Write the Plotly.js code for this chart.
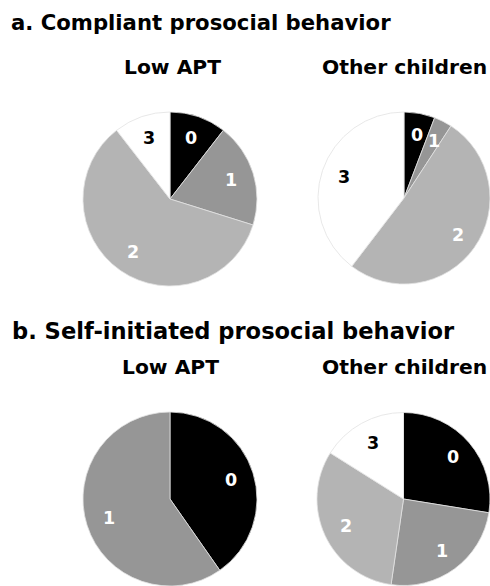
<!DOCTYPE html>
<html>
<head>
<meta charset="utf-8">
<script src="https://cdn.plot.ly/plotly-3.0.1.min.js"></script>
<style>
  html, body { margin: 0; padding: 0; background: #ffffff; overflow: hidden; }
  #chart { width: 490px; height: 586px; }
</style>
</head>
<body>
<div id="chart"></div>
<script>
// ---- data (percent of children in each score category) ----
const categories = ['0', '1', '2', '3'];
const compliantLowAPT = [10.5, 19.3, 59.6, 10.5];
const compliantOther = [5.8, 3.4, 51.2, 39.6];
const selfCategories = ['0', '1'];
const selfLowAPT = [40.3, 59.7];
const selfOther = [27.6, 24.8, 31.7, 16.1];

const panelTitles = ['a. Compliant prosocial behavior', 'b. Self-initiated prosocial behavior'];
const groupTitles = ['Low APT', 'Other children'];

// ---- style ----
const sliceColors = ['#000000', '#969696', '#b4b4b4', '#ffffff'];
const labelColors = ['#ffffff', '#ffffff', '#ffffff', '#000000'];
const FONT = '"DejaVu Sans", Verdana, sans-serif';
const W = 490, H = 586;
const R = 87;
const LABEL_R = 0.74;

function domainFor(cx, cy, r) {
  return {
    x: [(cx - r) / W, (cx + r) / W],
    y: [(H - (cy + r)) / H, (H - (cy - r)) / H]
  };
}

function pieTrace(labels, values, cx, cy, r) {
  return {
    type: 'pie',
    labels: labels,
    values: values,
    sort: false,
    direction: 'clockwise',
    rotation: 0,
    domain: domainFor(cx, cy, r),
    marker: {
      colors: sliceColors.slice(0, labels.length),
      line: { color: '#e2e2e2', width: 0.8 }
    },
    textinfo: 'none',
    hoverinfo: 'label+percent',
    showlegend: false
  };
}

// slice labels placed along each slice's mid-angle (derived from the values)
function sliceLabels(labels, values, cx, cy, r) {
  const total = values.reduce((a, b) => a + b, 0);
  let cum = 0;
  return labels.map((lab, i) => {
    const mid = 2 * Math.PI * (cum + values[i] / 2) / total;
    cum += values[i];
    const px = cx + LABEL_R * r * Math.sin(mid);
    const py = cy - LABEL_R * r * Math.cos(mid);
    return {
      text: '<b>' + lab + '</b>',
      xref: 'paper', yref: 'paper',
      x: px / W, y: 1 - py / H,
      xanchor: 'center', yanchor: 'middle',
      showarrow: false,
      font: { family: FONT, size: 17.5, color: labelColors[i] }
    };
  });
}

const pies = [
  [categories, compliantLowAPT, 170, 199],
  [categories, compliantOther, 405, 198],
  [selfCategories, selfLowAPT, 170, 499],
  [categories, selfOther, 404, 499]
];

const traces = pies.map(p => pieTrace(p[0], p[1], p[2], p[3], R));

function ann(text, x, y, size, xanchor) {
  return {
    text: '<b>' + text + '</b>',
    xref: 'paper', yref: 'paper',
    x: x / W, y: 1 - y / H,
    xanchor: xanchor, yanchor: 'middle',
    showarrow: false,
    font: { family: FONT, size: size, color: '#000000' }
  };
}

let annotations = [
  ann(panelTitles[0], 9, 22, 21.2, 'left'),
  ann(groupTitles[0], 172, 67, 20.3, 'center'),
  ann(groupTitles[1], 404, 67, 20.3, 'center'),
  ann(panelTitles[1], 10, 331, 22.6, 'left'),
  ann(groupTitles[0], 170, 367, 20.3, 'center'),
  ann(groupTitles[1], 404, 367, 20.3, 'center')
];
pies.forEach(p => { annotations = annotations.concat(sliceLabels(p[0], p[1], p[2], p[3], R)); });

const layout = {
  width: W, height: H,
  margin: { l: 0, r: 0, t: 0, b: 0 },
  paper_bgcolor: '#ffffff',
  plot_bgcolor: '#ffffff',
  showlegend: false,
  annotations: annotations
};

Plotly.newPlot('chart', traces, layout, { displayModeBar: false, staticPlot: true });
</script>
</body>
</html>
